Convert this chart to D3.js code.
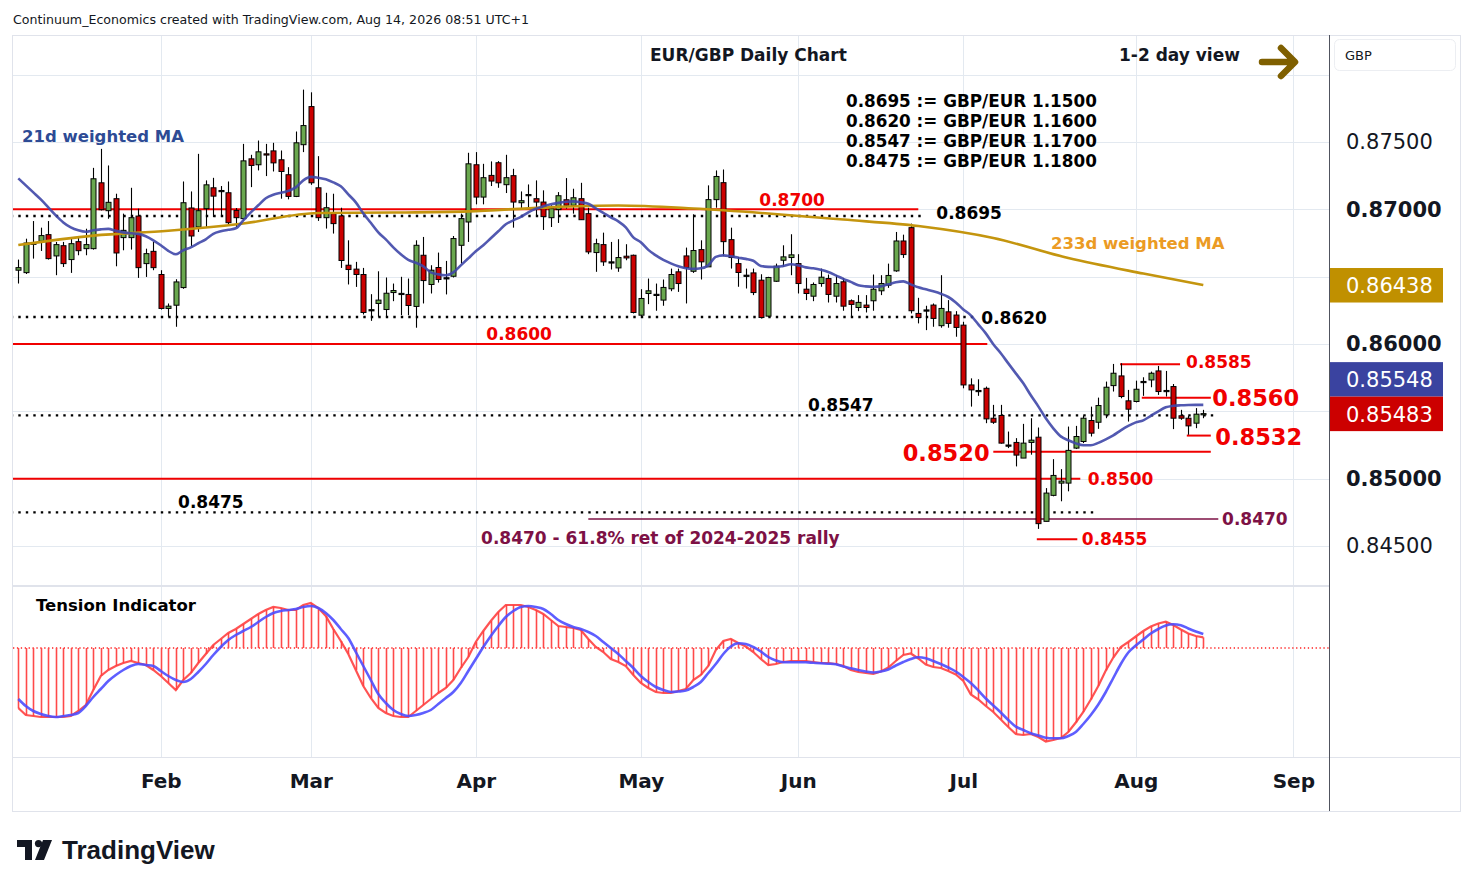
<!DOCTYPE html>
<html>
<head>
<meta charset="utf-8">
<title>EUR/GBP Daily Chart</title>
<script src="https://d3js.org/d3.v7.min.js"></script>
<style>
  body { margin: 0; background: #fff; }
  svg { display: block; font-family: "DejaVu Sans", sans-serif; }
</style>
</head>
<body>
<svg id="chart" width="1474" height="887"></svg>
<script>
// daily bars, weekdays 6 Jan - 14 Aug 2026
var open = [
  .86548,.86530,.86740,.86763,.86812,.86654,.86730,.86627,.86760,.86708,
  .86708,.87197,.86990,.87079,.86790,.86790,.86950,.86597,.86688,
  .86516,.86264,.86288,.86419,.87010,.86869,.87005,.87160,.87137,.87123,
  .86992,.86931,.87375,.87331,.87412,.87434,.87368,.87257,.87096,.87480,
  .87763,.87160,.86938,.86968,.86951,.86585,.86556,.86516,.86255,.86301,
  .86256,.86382,.86375,.86368,.86279,.86659,.86442,.86568,.86491,.86503,.86733,.86906,
  .87331,.87091,.87252,.87346,.87183,.87250,.87049,.87109,.87079,.87054,
  .86938,.86998,.87071,.87030,.87079,.86968,.86679,.86738,.86610,.86565,.86652,.86659,
  .86214,.86375,.86368,.86326,.86410,.86536,.86654,.86540,.86701,.86573,
  .87072,.87198,.86775,.86597,.86511,.86528,.86474,.86207,.86466,.86622,.86642,
  .86597,.86407,.86355,.86449,.86486,.86355,.86462,.86321,.86271,.86289,
  .86321,.86395,.86437,.86543,.86765,.86864,.86227,.86252,.86289,.86136,.86239,.86215,
  .86140,.85696,.85654,.85671,.85449,.85469,.85249,.85269,.85153,.85269,
  .85308,.84683,.84876,.84967,.84967,.85227,.85276,.85432,.85419,.85474,.85691,.85763,.85578,
  .85573,.85721,.85733,.85800,.85654,.85684,.85467,.85449,.85412,.85474
];
var high = [
  .86627,.86782,.86913,.86864,.86913,.86758,.86758,.86782,.86795,.86856,
  .87308,.87449,.87326,.87116,.86968,.87160,.87005,.86708,.86758,
  .86548,.86301,.86481,.87207,.87133,.87412,.87215,.87234,.87173,.87207,
  .87010,.87486,.87405,.87511,.87486,.87494,.87437,.87313,.87578,.87889,
  .87869,.87395,.87123,.87116,.87012,.86770,.86610,.86565,.86370,.86540,
  .86494,.86449,.86499,.86486,.86770,.86795,.86585,.86679,.86617,.86802,.86968,.87420,
  .87425,.87338,.87356,.87358,.87405,.87301,.87133,.87185,.87215,.87141,
  .87030,.87128,.87232,.87153,.87197,.87012,.86782,.86827,.86758,.86778,.86741,.86664,
  .86407,.86486,.86449,.86479,.86560,.86560,.86716,.86963,.86770,.87178,
  .87289,.87296,.86864,.86647,.86560,.86560,.86518,.86499,.86597,.86733,.86815,
  .86667,.86491,.86457,.86560,.86516,.86511,.86491,.86331,.86363,.86363,
  .86516,.86511,.86597,.86832,.86812,.86894,.86343,.86284,.86301,.86511,.86326,.86244,
  .86165,.85745,.85738,.85684,.85548,.85548,.85350,.85301,.85407,.85449,
  .85380,.84930,.85145,.85071,.85387,.85392,.85469,.85535,.85602,.85721,.85852,.85857,.85659,
  .85728,.85753,.85795,.85837,.85800,.85703,.85511,.85467,.85524,.85511
];
var low = [
  .86449,.86520,.86634,.86691,.86627,.86511,.86572,.86528,.86659,.86659,
  .86701,.86992,.86930,.86577,.86696,.86701,.86491,.86498,.86548,
  .86256,.86202,.86128,.86410,.86728,.86832,.86869,.86943,.86943,.86886,
  .86869,.86918,.87165,.87289,.87247,.87281,.87079,.87074,.87091,.87425,
  .87182,.86914,.86857,.86820,.86565,.86442,.86424,.86219,.86172,.86202,
  .86202,.86318,.86214,.86214,.86121,.86301,.86375,.86456,.86368,.86494,.86597,.86758,
  .87037,.87037,.87173,.87160,.87121,.86864,.87005,.87005,.86955,.86847,
  .86869,.86899,.87005,.86968,.86923,.86667,.86536,.86580,.86553,.86536,.86622,.86227,
  .86202,.86296,.86247,.86284,.86392,.86387,.86301,.86528,.86479,.86573,
  .87012,.86652,.86560,.86425,.86412,.86363,.86190,.86202,.86461,.86573,.86511,
  .86375,.86326,.86318,.86425,.86308,.86308,.86247,.86202,.86244,.86234,
  .86247,.86363,.86417,.86536,.86639,.86227,.86153,.86103,.86128,.86121,.86121,.86054,
  .85671,.85535,.85615,.85412,.85407,.85260,.85227,.85091,.85153,.85178,
  .84627,.84683,.84869,.84832,.84906,.85220,.85264,.85313,.85370,.85449,.85647,.85597,.85424,
  .85566,.85615,.85679,.85622,.85610,.85368,.85437,.85326,.85375,.85449
];
var close = [
  .86567,.86750,.86750,.86805,.86634,.86738,.86597,.86745,.86693,.86738,
  .87227,.86997,.87052,.86676,.86844,.86938,.86567,.86671,.86567,
  .86264,.86281,.86461,.87049,.86802,.86990,.87182,.87098,.87140,.86901,
  .86938,.87360,.87326,.87427,.87405,.87345,.87281,.87096,.87494,.87622,
  .87197,.86938,.87012,.86894,.86620,.86553,.86516,.86234,.86253,.86326,
  .86377,.86397,.86376,.86286,.86733,.86471,.86548,.86479,.86492,.86783,.86931,.87338,
  .87091,.87235,.87210,.87197,.87235,.87054,.87064,.87110,.87054,.86946,
  .87005,.87101,.87030,.87086,.86923,.86684,.86745,.86610,.86608,.86642,.86639,.86234,
  .86338,.86395,.86369,.86420,.86516,.86449,.86568,.86694,.86610,.87072,
  .87244,.86760,.86642,.86531,.86510,.86382,.86197,.86494,.86578,.86647,.86662,
  .86449,.86375,.86442,.86496,.86368,.86449,.86281,.86294,.86309,.86271,
  .86407,.86449,.86509,.86765,.86664,.86247,.86197,.86253,.86190,.86264,.86153,.86123,
  .85696,.85659,.85655,.85444,.85419,.85264,.85250,.85175,.85264,.85286,
  .84666,.84893,.85024,.84982,.85210,.85313,.85449,.85338,.85543,.85679,.85783,.85610,.85516,
  .85664,.85722,.85783,.85647,.85655,.85449,.85449,.85392,.85479,.85483
];

// 21d weighted MA, one value per bar
var ma21 = [
  .87230,.87178,.87126,.87074,.87015,.86955,.86903,.86866,.86844,.86833,
  .86844,.86851,.86855,.86840,.86829,.86822,.86818,.86800,.86770,.86733,
  .86692,.86666,.86696,.86718,.86748,.86777,.86818,.86837,.86848,.86859,
  .86918,.86978,.87030,.87082,.87108,.87123,.87137,.87163,.87215,.87241,
  .87234,.87223,.87200,.87171,.87111,.87052,.86970,.86900,.86829,.86777,
  .86718,.86666,.86625,.86603,.86577,.86532,.86517,.86510,.86532,.86584,
  .86636,.86688,.86733,.86785,.86837,.86889,.86918,.86944,.86978,.87004,
  .87022,.87037,.87048,.87056,.87059,.87052,.87041,.87007,.86974,.86941,
  .86911,.86866,.86792,.86755,.86699,.86658,.86625,.86599,.86577,.86562,
  .86558,.86562,.86584,.86647,.86658,.86651,.86641,.86632,.86618,.86580,
  .86573,.86572,.86580,.86592,.86584,.86569,.86562,.86551,.86534,.86510,
  .86484,.86461,.86436,.86428,.86425,.86428,.86443,.86458,.86465,.86443,
  .86421,.86406,.86391,.86373,.86349,.86309,.86257,.86213,.86146,.86079,
  .85998,.85931,.85856,.85782,.85708,.85619,.85537,.85448,.85374,.85314,
  .85285,.85262,.85248,.85248,.85266,.85292,.85322,.85359,.85392,.85418,
  .85433,.85467,.85500,.85530,.85541,.85545,.85547,.85548,.85548
];

// 233d weighted MA, read every tenth bar
var ma233Bar = [0,10,20,30,40,50,60,70,80,90,100,110,120,130,140,150,158];
var ma233 = [.86735,.86805,.86841,.86895,.86973,.86976,.86985,.87013,.87028,
             .87006,.86969,.86924,.86876,.86787,.86638,.86523,.86438];

// Tension Indicator: red (fast, also drawn as histogram) and blue (slow)
var tensionFast = [
  -.60,-.67,-.68,-.69,-.69,-.69,-.69,-.68,-.63,-.57,
  -.42,-.28,-.22,-.18,-.15,-.13,-.15,-.17,-.22,-.28,
  -.35,-.42,-.32,-.25,-.15,-.06,.03,.09,.15,.19,
  .24,.29,.34,.38,.41,.40,.38,.38,.43,.45,
  .40,.32,.19,.07,-.06,-.22,-.38,-.50,-.60,-.65,
  -.68,-.69,-.69,-.63,-.57,-.51,-.45,-.40,-.32,-.20,
  -.09,.06,.17,.27,.36,.43,.43,.43,.41,.38,
  .34,.28,.22,.21,.20,.18,.09,.01,-.04,-.11,
  -.14,-.18,-.27,-.35,-.40,-.44,-.45,-.45,-.43,-.41,
  -.32,-.27,-.18,-.02,.07,.09,.05,.015,-.04,-.11,
  -.17,-.16,-.14,-.13,-.13,-.13,-.14,-.15,-.15,-.16,
  -.18,-.22,-.24,-.25,-.26,-.235,-.195,-.13,-.07,-.055,
  -.105,-.165,-.19,-.20,-.23,-.265,-.33,-.465,-.515,-.58,
  -.64,-.715,-.79,-.86,-.87,-.86,-.89,-.935,-.92,-.90,
  -.84,-.745,-.64,-.515,-.38,-.225,-.095,.01,.06,.115,
  .17,.215,.245,.263,.23,.185,.145,.12,.107
];
var tensionSlow = [
  -.51,-.58,-.63,-.66,-.68,-.69,-.68,-.67,-.65,-.58,
  -.49,-.41,-.33,-.27,-.22,-.18,-.16,-.17,-.18,-.23,
  -.28,-.32,-.34,-.31,-.24,-.16,-.07,.01,.08,.13,
  .17,.21,.26,.31,.35,.37,.38,.39,.41,.42,
  .40,.35,.28,.19,.10,-.04,-.18,-.32,-.46,-.55,
  -.62,-.66,-.68,-.67,-.65,-.62,-.56,-.50,-.44,-.35,
  -.23,-.11,.01,.12,.22,.31,.37,.41,.42,.41,
  .39,.34,.28,.24,.21,.19,.16,.12,.06,.00,
  -.06,-.13,-.20,-.28,-.34,-.39,-.42,-.44,-.435,-.425,
  -.39,-.34,-.25,-.16,-.06,.015,.047,.04,.01,-.035,
  -.09,-.125,-.143,-.143,-.143,-.143,-.148,-.153,-.157,-.163,
  -.185,-.203,-.22,-.235,-.245,-.235,-.215,-.175,-.14,-.11,
  -.093,-.103,-.13,-.16,-.195,-.235,-.29,-.35,-.425,-.505,
  -.575,-.645,-.72,-.787,-.82,-.853,-.875,-.897,-.903,-.903,
  -.88,-.84,-.76,-.67,-.565,-.44,-.30,-.16,-.045,.025,
  .085,.145,.19,.225,.237,.228,.195,.165,.14
];

var monthNames = ["Feb","Mar","Apr","May","Jun","Jul","Aug","Sep"];
var monthStart = [19,39,61,83,104,126,149,170];   // bar index of first trading day
var priceTicks = [0.875,0.870,0.860,0.850,0.845];
var gridPrices = [0.880,0.875,0.870,0.865,0.860,0.855,0.850,0.845];
var levelPrice = [0.8700,0.8695,0.8620,0.8600,0.8547,0.8500,0.8475,0.8470,0.8455,0.8520,0.8585,0.8560,0.8532];
var convLines = ["0.8695 := GBP/EUR 1.1500","0.8620 := GBP/EUR 1.1600",
                 "0.8547 := GBP/EUR 1.1700","0.8475 := GBP/EUR 1.1800"];

// ---------------------------------------------------------------
var RED = "#f00000", MAROON = "#7d1145", INK = "#131722", GRID = "#e3e9f0";
var svg = d3.select("#chart");
var n = close.length, bars = d3.range(n);

var x  = d3.scaleLinear().domain([0, 170]).range([18.3, 1293.3]);
var y  = d3.scaleLinear().domain([0.845, 0.875]).range([546, 142]);
var yT = d3.scaleLinear().domain([-1, 0.5]).range([748, 598]);

var defs = svg.append("defs");
defs.append("clipPath").attr("id","clipMain").append("rect")
  .attr("x",13).attr("y",36).attr("width",1316).attr("height",549);
defs.append("clipPath").attr("id","clipInd").append("rect")
  .attr("x",13).attr("y",588).attr("width",1316).attr("height",169);

svg.append("rect").attr("width",1474).attr("height",887).attr("fill","#fff");

// header
svg.append("text").attr("x",13).attr("y",19).attr("dominant-baseline","central")
  .attr("font-size",12.6).attr("fill",INK)
  .text("Continuum_Economics created with TradingView.com, Aug 14, 2026 08:51 UTC+1");

// grid
svg.append("g").selectAll("line").data(gridPrices).join("line")
  .attr("x1",13).attr("x2",1329).attr("y1",d=>Math.round(y(d))+.5).attr("y2",d=>Math.round(y(d))+.5)
  .attr("stroke",GRID);
svg.append("g").selectAll("line").data(monthStart).join("line")
  .attr("x1",d=>Math.round(x(d))+.5).attr("x2",d=>Math.round(x(d))+.5)
  .attr("y1",36).attr("y2",757).attr("stroke",GRID);

// frame
svg.append("rect").attr("x",12.5).attr("y",35.5).attr("width",1448).attr("height",776)
  .attr("fill","none").attr("stroke","#e0e3eb");
svg.append("line").attr("x1",13).attr("x2",1329).attr("y1",586).attr("y2",586)
  .attr("stroke","#e0e3eb").attr("stroke-width",2);
svg.append("line").attr("x1",13).attr("x2",1461).attr("y1",757.5).attr("y2",757.5)
  .attr("stroke","#e0e3eb");
svg.append("line").attr("x1",1329.5).attr("x2",1329.5).attr("y1",35).attr("y2",811)
  .attr("stroke","#50535e");

// ----- levels (drawn under the candles)
var levelDraw = [
  {from:-1,   to:120,   kind:"red", lx:98.8,  dy:-9,  big:false},
  {from:-1,   to:121,   kind:"dot", lx:122.4, dy:-3,  big:false},
  {from:-1,   to:127.6, kind:"dot", lx:128.4, dy:1,   big:false},
  {from:-1,   to:129.2, kind:"red", lx:62.4,  dy:-10, big:false},
  {from:-1,   to:159.6, kind:"dot", lx:105.3, dy:-10, big:false},
  {from:-1,   to:141.6, kind:"red", lx:142.6, dy:0,   big:false},
  {from:-1,   to:143.8, kind:"dot", lx:21.3,  dy:-10, big:false},
  {from:76,   to:160,   kind:"mar", lx:160.5, dy:0,   big:false},
  {from:135.8,to:141.2, kind:"red", lx:141.8, dy:0,   big:false},
  {from:130,  to:159,   kind:"red", lx:129.5, dy:1,   big:true, end:true},
  {from:146.9,to:154.9, kind:"red", lx:155.7, dy:-2,  big:false},
  {from:149.8,to:159,   kind:"red", lx:159.2, dy:0,   big:true},
  {from:155.8,to:159,   kind:"red", lx:159.6, dy:1,   big:true}
];
var gL = svg.append("g").attr("clip-path","url(#clipMain)");
levelPrice.forEach(function(p, k) {
  var L = levelDraw[k];
  var ln = gL.append("line").attr("x1",x(L.from)).attr("x2",x(L.to))
    .attr("y1",y(p)).attr("y2",y(p));
  if (L.kind === "dot") ln.attr("stroke","#000").attr("stroke-width",2.4).attr("stroke-dasharray","2.4,5.1");
  else if (L.kind === "mar") ln.attr("stroke",MAROON).attr("stroke-width",1.6);
  else ln.attr("stroke",RED).attr("stroke-width",2);
  svg.append("text").attr("x",x(L.lx)).attr("y",y(p)+L.dy)
    .attr("dominant-baseline","central").attr("text-anchor",L.end ? "end" : "start")
    .attr("font-weight","bold").attr("font-size",L.big ? 22.5 : 17)
    .attr("fill",L.kind === "dot" ? "#000" : (L.kind === "mar" ? MAROON : RED))
    .text(d3.format(".4f")(p));
});
svg.append("text").attr("x",x(61.7)).attr("y",y(0.8470)+19).attr("dominant-baseline","central")
  .attr("font-weight","bold").attr("font-size",17).attr("fill",MAROON)
  .text("0.8470 - 61.8% ret of 2024-2025 rally");

// ----- candles
var gC = svg.append("g").attr("clip-path","url(#clipMain)");
gC.selectAll("line.wick").data(bars).join("line").attr("class","wick")
  .attr("x1",i=>Math.round(x(i))+.5).attr("x2",i=>Math.round(x(i))+.5)
  .attr("y1",i=>y(high[i])).attr("y2",i=>y(low[i]))
  .attr("stroke","#000").attr("stroke-width",1.1);
gC.selectAll("rect.body").data(bars).join("rect").attr("class","body")
  .attr("x",i=>Math.round(x(i))-2).attr("width",5)
  .attr("y",i=>y(Math.max(open[i],close[i])))
  .attr("height",i=>Math.max(1.2, Math.abs(y(open[i])-y(close[i]))))
  .attr("fill",function(i){
    if (Math.abs(close[i]-open[i]) < 0.00004) return "#000";
    return close[i] > open[i] ? "#6aa84f" : "#cc0000";
  })
  .attr("stroke","#000").attr("stroke-width",1);

// ----- moving averages
gC.append("path").datum(ma233Bar.map((b,k)=>[b, ma233[k]]))
  .attr("fill","none").attr("stroke","#c4950e").attr("stroke-width",2.6)
  .attr("d", d3.line().x(d=>x(d[0])).y(d=>y(d[1])).curve(d3.curveMonotoneX));
gC.append("path").datum(bars)
  .attr("fill","none").attr("stroke","#3f47a8").attr("stroke-width",2.6).attr("stroke-opacity",.9)
  .attr("d", d3.line().x(i=>x(i)).y(i=>y(ma21[i])).curve(d3.curveMonotoneX));

// ----- chart texts
svg.append("text").attr("x",650).attr("y",55).attr("dominant-baseline","central")
  .attr("font-weight","bold").attr("font-size",17).attr("fill",INK).text("EUR/GBP Daily Chart");
svg.append("text").attr("x",1119).attr("y",55).attr("dominant-baseline","central")
  .attr("font-weight","bold").attr("font-size",17).attr("fill",INK).text("1-2 day view");
svg.append("path").attr("d","M1262,62H1294M1281,48L1295,62L1281,76")
  .attr("fill","none").attr("stroke","#7f5f00").attr("stroke-width",6.5)
  .attr("stroke-linecap","round").attr("stroke-linejoin","round");
svg.append("g").selectAll("text").data(convLines).join("text")
  .attr("x",846).attr("y",(d,k)=>101+20*k).attr("dominant-baseline","central")
  .attr("font-weight","bold").attr("font-size",16.8).attr("fill","#000").text(d=>d);
svg.append("text").attr("x",22).attr("y",136).attr("dominant-baseline","central")
  .attr("font-weight","bold").attr("font-size",16.5).attr("fill","#2d4b95").text("21d weighted MA");
svg.append("text").attr("x",1051).attr("y",243).attr("dominant-baseline","central")
  .attr("font-weight","bold").attr("font-size",16.5).attr("fill","#eb9b24").text("233d weighted MA");

// ----- tension indicator
var gI = svg.append("g").attr("clip-path","url(#clipInd)");
gI.append("line").attr("x1",13).attr("x2",1329).attr("y1",yT(0)).attr("y2",yT(0))
  .attr("stroke","#ff2020").attr("stroke-width",1.3).attr("stroke-dasharray","1.3,2.6");
gI.selectAll("line.hist").data(bars).join("line").attr("class","hist")
  .attr("x1",i=>Math.round(x(i))+.5).attr("x2",i=>Math.round(x(i))+.5)
  .attr("y1",yT(0)).attr("y2",i=>yT(tensionFast[i]))
  .attr("stroke","#ff4a4a").attr("stroke-width",1.6);
gI.append("path").datum(bars).attr("fill","none").attr("stroke","#ff4040")
  .attr("stroke-width",2.2).attr("stroke-opacity",.9)
  .attr("d", d3.line().x(i=>x(i)).y(i=>yT(tensionFast[i])));
gI.append("path").datum(bars).attr("fill","none").attr("stroke","#4d4dff")
  .attr("stroke-width",2.6).attr("stroke-opacity",.9)
  .attr("d", d3.line().x(i=>x(i)).y(i=>yT(tensionSlow[i])).curve(d3.curveMonotoneX));
svg.append("text").attr("x",36).attr("y",605).attr("dominant-baseline","central")
  .attr("font-weight","bold").attr("font-size",16.5).attr("fill","#000").text("Tension Indicator");

// ----- price axis
var ay = svg.append("g").attr("transform","translate(1334,0)")
  .call(d3.axisRight(y).tickValues(priceTicks).tickFormat(d3.format(".5f")).tickSize(0).tickPadding(12));
ay.select(".domain").remove();
ay.selectAll("text").attr("font-size",21).attr("font-family","DejaVu Sans").attr("fill",INK)
  .attr("font-weight",d=>Math.abs(d*100-Math.round(d*100))<1e-6 ? "bold" : "normal");

// last-value labels: 233d MA, 21d MA, last close
var lastRed = y(close[n-1]);
var tags = [
  {v: ma233[ma233.length-1], c:"#c09000", yc: y(ma233[ma233.length-1])},
  {v: ma21[n-1],            c:"#3a43a0", yc: lastRed - 34.5},
  {v: close[n-1],           c:"#cc0000", yc: lastRed}
];
var gTag = svg.append("g").selectAll("g").data(tags).join("g");
gTag.append("rect").attr("x",1330).attr("width",113).attr("y",d=>d.yc-17).attr("height",34.5)
  .attr("fill",d=>d.c);
gTag.append("text").attr("x",1346).attr("y",d=>d.yc+1).attr("dominant-baseline","central")
  .attr("font-size",21).attr("fill","#fff").text(d=>d3.format(".5f")(d.v));

// currency box
svg.append("rect").attr("x",1334.5).attr("y",39.5).attr("width",121).attr("height",31).attr("rx",5)
  .attr("fill","#fff").attr("stroke","#eceef2");
svg.append("text").attr("x",1345).attr("y",55).attr("dominant-baseline","central")
  .attr("font-size",13).attr("fill",INK).text("GBP");

// ----- time axis
var ax = svg.append("g").attr("transform","translate(0,774)")
  .call(d3.axisBottom(x).tickValues(monthStart).tickFormat((d,k)=>monthNames[k]).tickSize(0).tickPadding(0));
ax.select(".domain").remove();
ax.selectAll("text").attr("font-size",20).attr("font-weight","bold")
  .attr("font-family","DejaVu Sans").attr("fill",INK);

// ----- logo
var logo = svg.append("g").attr("transform","translate(17,840)").attr("fill",INK);
logo.append("path").attr("d","M0,0H15V20H8V7H0Z");
logo.append("circle").attr("cx",21.5).attr("cy",3.6).attr("r",3.6);
logo.append("path").attr("d","M18,20L26,0H35L27,20Z");
svg.append("text").attr("x",62).attr("y",850).attr("dominant-baseline","central")
  .attr("font-family","Liberation Sans").attr("font-weight","bold").attr("font-size",26)
  .attr("fill",INK).text("TradingView");
</script>
</body>
</html>
